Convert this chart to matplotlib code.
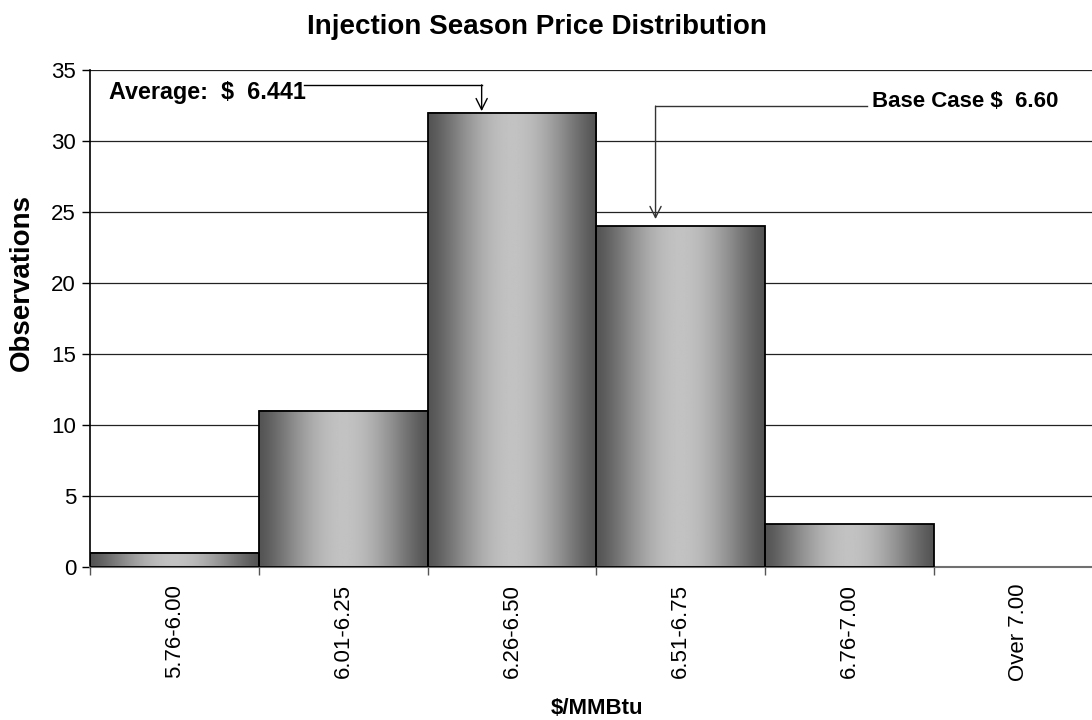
import matplotlib.pyplot as plt
from matplotlib.patches import Rectangle
import numpy as np

plt.rcParams['font.family'] = ['Liberation Sans', 'DejaVu Sans']

# data
categories = ["5.76-6.00", "6.01-6.25", "6.26-6.50", "6.51-6.75", "6.76-7.00", "Over 7.00"]
observations = [1, 11, 32, 24, 3, 0]
avg_label = "Average:  $  6.441"
base_label = "Base Case $  6.60"

fig = plt.figure(figsize=(10.92, 7.2), dpi=100)
ax = fig.add_axes([0.0824, 0.2125, 1.01 - 0.0824, 0.9028 - 0.2125])

# horizontal gradient: dark edges, light centre
t = np.linspace(0, 1, 200)
grad = 0.33 + 0.43 * np.sin(np.pi * t) ** 1.3
grad = np.vstack([grad, grad])

pos = np.arange(len(categories))
for x, h in zip(pos, observations):
    if h <= 0:
        continue
    ax.imshow(grad, cmap='gray', vmin=0, vmax=1, aspect='auto',
              extent=(x, x + 1, 0, h), zorder=2, interpolation='bilinear')
    ax.add_patch(Rectangle((x, 0), 1, h, fill=False, edgecolor='black', lw=1.3, zorder=3))

ax.set_xlim(0, len(categories))
ax.set_ylim(0, 35)
ax.set_yticks(range(0, 36, 5))
ax.yaxis.grid(True, color='#222222', lw=0.9)
ax.set_axisbelow(True)

ax.set_xticks(range(len(categories) + 1))
ax.set_xticklabels([])
ax.set_xticks(pos + 0.5, minor=True)
ax.set_xticklabels(categories, minor=True, rotation=90, fontsize=16)
ax.tick_params(axis='x', which='minor', length=0, pad=12)
ax.tick_params(axis='x', which='major', length=6, color='#555555', width=1)
ax.tick_params(axis='y', length=6, width=1, labelsize=16, pad=4)

for s in ['top', 'right']:
    ax.spines[s].set_visible(False)
ax.spines['left'].set_color('black')
ax.spines['left'].set_linewidth(1.2)
ax.spines['bottom'].set_color('#707070')
ax.spines['bottom'].set_linewidth(1.5)

fig.text(0.492, 0.962, "Injection Season Price Distribution", ha='center', va='center',
         fontsize=20, fontweight='bold')
fig.text(0.0197, 0.607, "Observations", rotation=90, ha='center', va='center',
         fontsize=20, fontweight='bold')
fig.text(0.547, 0.016, "$/MMBtu", ha='center', va='center', fontsize=16, fontweight='bold')

# callouts
ax.text(0.11, 33.4, avg_label, ha='left', va='center', fontsize=16.8, fontweight='bold')
ax.plot([1.27, 2.32], [33.95, 33.95], color='black', lw=1, zorder=4)
ax.annotate("", xy=(2.32, 32.1), xytext=(2.32, 33.95),
            arrowprops=dict(arrowstyle='->', color='black', lw=1, mutation_scale=20,
                            shrinkA=0, shrinkB=0), zorder=4)

ax.text(4.633, 32.8, base_label, ha='left', va='center', fontsize=16, fontweight='bold')
ax.plot([3.35, 4.6], [32.46, 32.46], color='#333333', lw=1, zorder=4)
ax.annotate("", xy=(3.35, 24.5), xytext=(3.35, 32.46),
            arrowprops=dict(arrowstyle='->', color='#333333', lw=1, mutation_scale=20,
                            shrinkA=0, shrinkB=0), zorder=4)

fig.savefig("out.png", dpi=100)
